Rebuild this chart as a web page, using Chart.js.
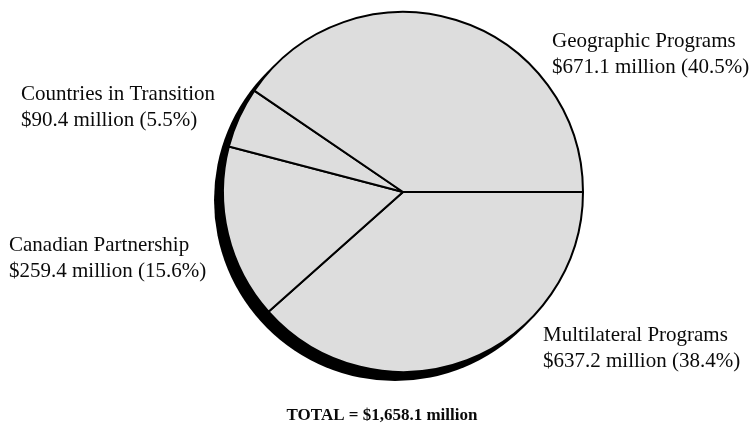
<!DOCTYPE html>
<html>
<head>
<meta charset="utf-8">
<script src="https://cdn.jsdelivr.net/npm/chart.js@4.4.1/dist/chart.umd.min.js"></script>
<style>
  html, body { margin: 0; padding: 0; background: #ffffff; }
  #wrap { width: 752px; height: 431px; position: relative; }
</style>
</head>
<body>
<div id="wrap"><canvas id="allocPie"></canvas></div>
<script>
// Program allocations (millions of dollars), clockwise from 3 o'clock
const categories = ['Multilateral Programs', 'Canadian Partnership', 'Countries in Transition', 'Geographic Programs'];
const amounts = [637.2, 259.4, 90.4, 671.1];
const shares = ['38.4%', '15.6%', '5.5%', '40.5%'];
const totalLabel = 'TOTAL = $1,658.1 million';

// Label anchors relative to the pie centre (left x, first baseline y)
const labelOffsets = [
    { dx: 140, dy: 149 },
    { dx: -394, dy: 59 },
    { dx: -382, dy: -92 },
    { dx: 149, dy: -145 }
];

// Black drop shadow behind the pie, offset down-left
const pieShadow = {
    id: 'pieShadow',
    beforeDatasetsDraw(chart) {
        const arc = chart.getDatasetMeta(0).data[0];
        if (!arc) return;
        const ctx = chart.ctx;
        ctx.save();
        ctx.fillStyle = '#000000';
        ctx.beginPath();
        ctx.arc(arc.x - 8, arc.y + 8, arc.outerRadius + 1, 0, Math.PI * 2);
        ctx.fill();
        ctx.restore();
    }
};

// Slice labels and the total line
const pieLabels = {
    id: 'pieLabels',
    afterDraw(chart) {
        const arc = chart.getDatasetMeta(0).data[0];
        if (!arc) return;
        const ctx = chart.ctx;
        ctx.save();
        ctx.fillStyle = '#0a0a0a';
        ctx.textAlign = 'left';
        ctx.textBaseline = 'alphabetic';
        ctx.font = "21px 'Liberation Serif', 'Times New Roman', serif";
        categories.forEach((name, i) => {
            const x = arc.x + labelOffsets[i].dx;
            const y = arc.y + labelOffsets[i].dy;
            ctx.fillText(name, x, y);
            ctx.fillText('$' + amounts[i].toFixed(1) + ' million (' + shares[i] + ')', x, y + 26);
        });
        ctx.font = "bold 17px 'Liberation Serif', 'Times New Roman', serif";
        ctx.textAlign = 'center';
        ctx.fillText(totalLabel, chart.width / 2 + 6, 420);
        ctx.restore();
    }
};

new Chart(document.getElementById('allocPie'), {
    type: 'pie',
    data: {
        labels: categories,
        datasets: [{
            data: amounts,
            backgroundColor: '#dddddd',
            borderColor: '#000000',
            borderWidth: 2
        }]
    },
    options: {
        responsive: true,
        maintainAspectRatio: false,
        animation: false,
        events: [],
        rotation: 90,
        radius: 180,
        layout: {
            padding: { top: 12, bottom: 59, left: 54, right: 0 }
        },
        plugins: {
            legend: { display: false },
            tooltip: { enabled: false },
            title: { display: false }
        }
    },
    plugins: [pieShadow, pieLabels]
});
</script>
</body>
</html>
